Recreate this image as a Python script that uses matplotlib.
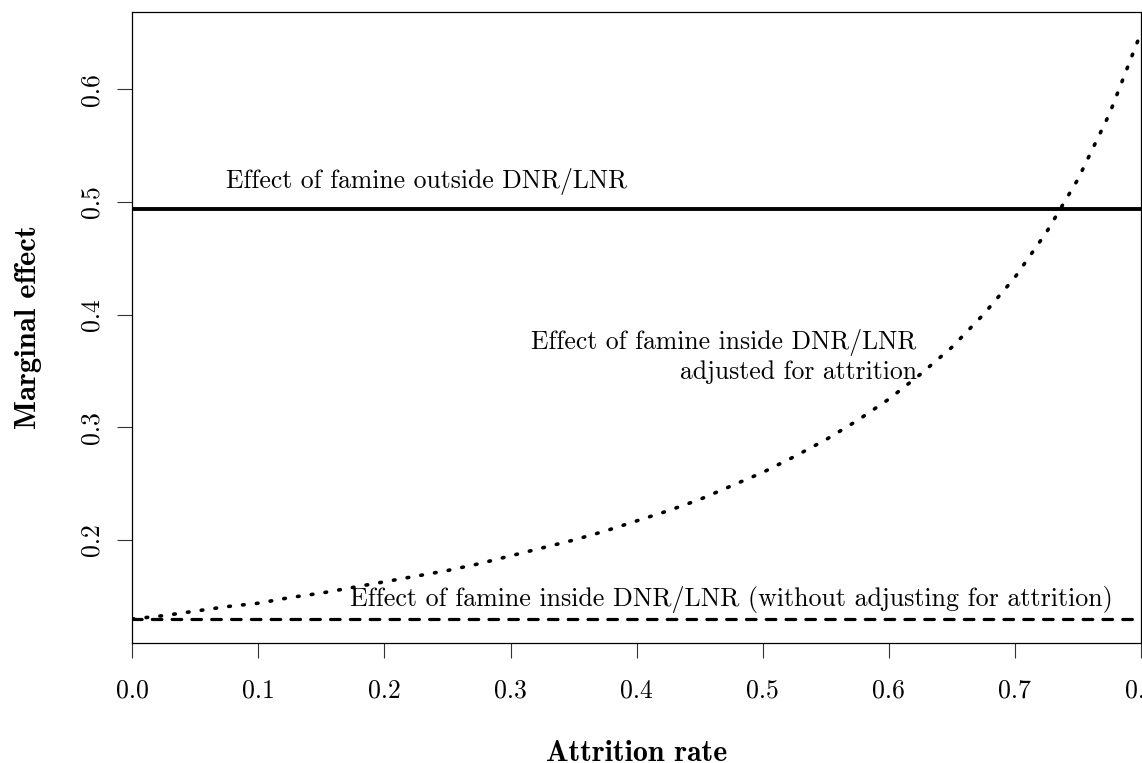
import numpy as np
import matplotlib
matplotlib.use("Agg")
import matplotlib.pyplot as plt

plt.rcParams['font.family'] = ['cmr10']
plt.rcParams['axes.formatter.use_mathtext'] = True

# attrition rate grid and the attrition-adjusted effect
attrition = [0.000, 0.025, 0.050, 0.075, 0.100, 0.125, 0.150, 0.175, 0.200,
             0.225, 0.250, 0.275, 0.300, 0.325, 0.350, 0.375, 0.400, 0.425,
             0.450, 0.475, 0.500, 0.525, 0.550, 0.575, 0.600, 0.625, 0.650,
             0.675, 0.700, 0.725, 0.750, 0.775, 0.800]
adjusted = [0.130, 0.133, 0.137, 0.141, 0.144, 0.149, 0.153, 0.158, 0.163,
            0.168, 0.173, 0.179, 0.186, 0.193, 0.200, 0.208, 0.217, 0.226,
            0.236, 0.248, 0.260, 0.274, 0.289, 0.306, 0.325, 0.347, 0.371,
            0.400, 0.433, 0.473, 0.520, 0.578, 0.650]
outside_effect = 0.494
inside_effect = 0.130

xticks = [0.0, 0.1, 0.2, 0.3, 0.4, 0.5, 0.6, 0.7, 0.8]
xticklabels = ['0.0', '0.1', '0.2', '0.3', '0.4', '0.5', '0.6', '0.7', '0.8']
yticks = [0.2, 0.3, 0.4, 0.5, 0.6]
yticklabels = ['0.2', '0.3', '0.4', '0.5', '0.6']

fig = plt.figure(figsize=(11.42, 7.63), dpi=100)
ax = fig.add_axes([0.1158, 0.1577, 0.8833, 0.826])

ax.axhline(outside_effect, color='black', lw=2.8, solid_capstyle='butt')
ax.axhline(inside_effect, color='black', lw=2.3, ls=(0, (3.0, 3.2)),
           dash_capstyle='round')
ax.plot(attrition, adjusted, color='black', lw=2.6, ls=(0, (0.45, 3.4)),
        dash_capstyle='round')

ax.text(0.233, outside_effect + 0.012, 'Effect of famine outside DNR/LNR',
        ha='center', va='bottom', fontsize=18.5)
ax.text(0.622, 0.363, 'Effect of famine inside DNR/LNR\nadjusted for attrition',
        ha='right', va='center', fontsize=18.5, multialignment='right',
        linespacing=1.25)
ax.text(0.778, 0.147,
        'Effect of famine inside DNR/LNR (without adjusting for attrition)',
        ha='right', va='center', fontsize=18.7)

ax.set_xlim(0, 0.8)
ax.set_ylim(0.109, 0.668)
ax.set_xticks(xticks)
ax.set_xticklabels(xticklabels, fontsize=18.5)
ax.set_yticks(yticks)
ax.set_yticklabels(yticklabels, fontsize=18.5, rotation=90, va='center')
ax.tick_params(axis='both', length=11, width=0.8, color='#333333')
ax.tick_params(axis='x', pad=15)
ax.tick_params(axis='y', pad=10)
for s in ax.spines.values():
    s.set_linewidth(0.9)

ax.set_xlabel('Attrition rate', fontsize=21.5, family='cmb10', labelpad=27)
ax.set_ylabel('Marginal effect', fontsize=22, family='cmb10', labelpad=27)

fig.savefig('out.png', dpi=100)
